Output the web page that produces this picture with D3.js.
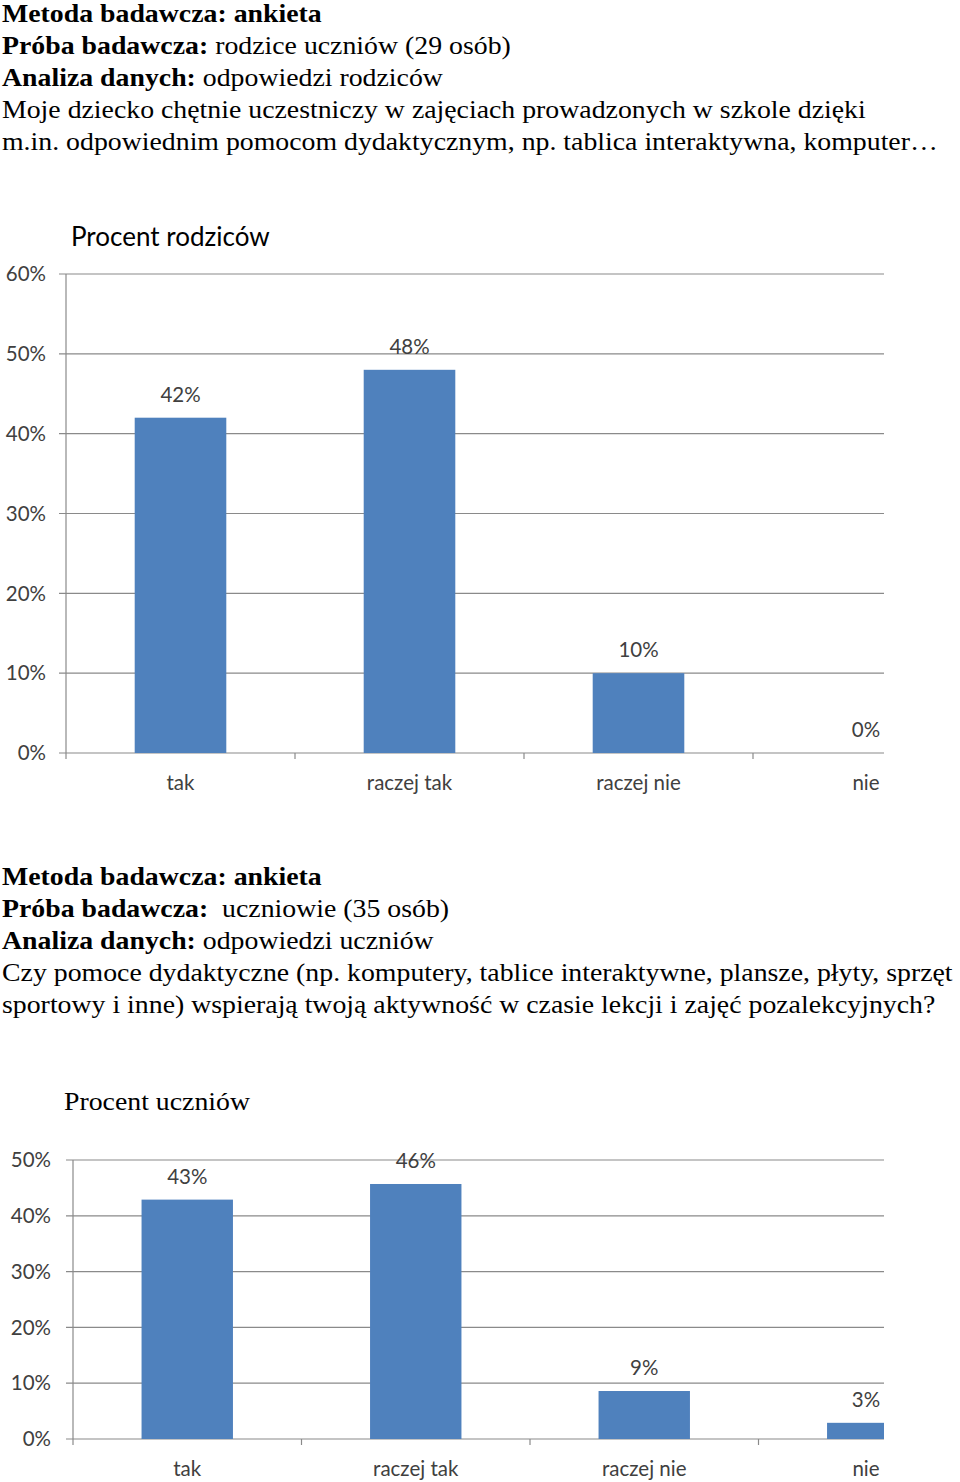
<!DOCTYPE html>
<html>
<head>
<meta charset="utf-8" />
<title>Procent rodziców / uczniów</title>
<script src="https://d3js.org/d3.v7.min.js"></script>
<style>
  body { margin: 0; background: white; }
  svg { display: block; }
  .doc { font-family: "Liberation Serif", "Times New Roman", serif; font-size: 26px; fill: #000; white-space: pre; }
  .axis text, .lbl { font-family: Lato, "Open Sans", sans-serif; font-size: 20.5px; fill: #404040; }
  .ctitle { font-size: 26px; fill: #000; }
</style>
</head>
<body>
<svg id="viz"></svg>
<script>

// answers
var categories = ["tak", "raczej tak", "raczej nie", "nie"];

// chart 1 - parents (29)
var parentValues = [42, 48, 10, 0];
var parentTicks = [0, 10, 20, 30, 40, 50, 60];

// chart 2 - pupils (35)
var pupilValues = [42.9, 45.7, 8.6, 2.9];
var pupilTicks = [0, 10, 20, 30, 40, 50];

// text blocks, [bold part, normal part]
var parentText = [
  ["Metoda badawcza: ankieta", ""],
  ["Próba badawcza:", " rodzice uczniów (29 osób)"],
  ["Analiza danych:", " odpowiedzi rodziców"],
  ["", "Moje dziecko chętnie uczestniczy w zajęciach prowadzonych w szkole dzięki"],
  ["", "m.in. odpowiednim pomocom dydaktycznym, np. tablica interaktywna, komputer…"]
];
var pupilText = [
  ["Metoda badawcza: ankieta", ""],
  ["Próba badawcza:", "  uczniowie (35 osób)"],
  ["Analiza danych:", " odpowiedzi uczniów"],
  ["", "Czy pomoce dydaktyczne (np. komputery, tablice interaktywne, plansze, płyty, sprzęt"],
  ["", "sportowy i inne) wspierają twoją aktywność w czasie lekcji i zajęć pozalekcyjnych?"]
];

var width = 960, height = 1482;
var svg = d3.select("#viz").attr("width", width).attr("height", height);

var defs = svg.append("defs");

// the scanned serif text is a bit wider than Liberation Serif
var stretch = 1.07;

function textBlock(lines, top) {
  var g = svg.append("g")
    .attr("transform", "translate(2,0) scale(" + stretch + ",1)");
  lines.forEach(function(l, i) {
    var t = g.append("text")
      .attr("class", "doc")
      .attr("x", 0)
      .attr("y", top + i * 32);
    if (l[0]) t.append("tspan").attr("font-weight", "bold").text(l[0]);
    if (l[1]) t.append("tspan").text(l[1]);
  });
}

textBlock(parentText, 22);
textBlock(pupilText, 885);

//draw one bar chart
function barChart(opt) {
  var g = svg.append("g");
  var left = opt.left, right = 884;

  var y = d3.scaleLinear()
    .domain([0, d3.max(opt.ticks)])
    .range([opt.bottom, opt.top]);

  // the picture is cut on the right, last band runs past 884
  var x = d3.scaleBand()
    .domain(categories)
    .range([left, left + 4 * opt.step])
    .paddingInner(0.6)
    .paddingOuter(0.3);

  var clipId = "clip" + opt.id;
  defs.append("clipPath").attr("id", clipId)
    .append("rect")
    .attr("x", 0).attr("y", 0)
    .attr("width", right).attr("height", height);

  var plot = g.append("g").attr("clip-path", "url(#" + clipId + ")");

  // gridlines
  plot.selectAll(".grid")
    .data(opt.ticks)
    .enter().append("line")
    .attr("x1", left - 7)
    .attr("x2", right)
    .attr("y1", function(d) { return y(d); })
    .attr("y2", function(d) { return y(d); })
    .attr("stroke", "#8a8a8a")
    .attr("stroke-width", 1.2);

  // bars
  plot.selectAll(".bar")
    .data(opt.values)
    .enter().append("rect")
    .attr("x", function(d, i) { return x(categories[i]); })
    .attr("width", x.bandwidth())
    .attr("y", function(d) { return y(d); })
    .attr("height", function(d) { return opt.bottom - y(d); })
    .attr("fill", "#4f81bd");

  // y axis
  g.append("line")
    .attr("x1", left).attr("x2", left)
    .attr("y1", opt.top).attr("y2", opt.bottom)
    .attr("stroke", "#8a8a8a").attr("stroke-width", 1.2);

  g.selectAll(".ylab")
    .data(opt.ticks)
    .enter().append("text")
    .attr("class", "lbl")
    .attr("x", left - opt.labelGap)
    .attr("y", function(d) { return y(d); })
    .attr("dy", "0.35em")
    .attr("text-anchor", "end")
    .text(function(d) { return d + "%"; });

  // x ticks between categories
  plot.selectAll(".xtick")
    .data(d3.range(0, 4))
    .enter().append("line")
    .attr("x1", function(i) { return left + i * opt.step; })
    .attr("x2", function(i) { return left + i * opt.step; })
    .attr("y1", opt.bottom)
    .attr("y2", opt.bottom + 6)
    .attr("stroke", "#8a8a8a").attr("stroke-width", 1.2);

  g.selectAll(".xlab")
    .data(categories)
    .enter().append("text")
    .attr("class", "lbl")
    .attr("x", function(d) { return Math.min(x(d) + x.bandwidth() / 2, 866); })
    .attr("y", opt.bottom + 37)
    .attr("text-anchor", "middle")
    .text(function(d) { return d; });

  // value labels
  g.selectAll(".vlab")
    .data(opt.values)
    .enter().append("text")
    .attr("class", "lbl")
    .attr("x", function(d, i) { return Math.min(x(categories[i]) + x.bandwidth() / 2, 866); })
    .attr("y", function(d) { return y(d) - 16; })
    .attr("text-anchor", "middle")
    .text(function(d) { return Math.round(d) + "%"; });

  // title
  var tg = g.append("g")
    .attr("transform", "translate(" + opt.titleX + "," + opt.titleY + ") scale(" + opt.titleStretch + ",1)");
  tg.append("text")
    .attr("class", opt.titleClass)
    .text(opt.title);
}

barChart({
  id: 1, values: parentValues, ticks: parentTicks,
  left: 66, top: 274, bottom: 753, step: 229, labelGap: 20,
  title: "Procent rodziców", titleClass: "lbl ctitle", titleX: 71, titleY: 246, titleStretch: 1
});

barChart({
  id: 2, values: pupilValues, ticks: pupilTicks,
  left: 73, top: 1160, bottom: 1439, step: 228.5, labelGap: 22,
  title: "Procent uczniów", titleClass: "doc", titleX: 64, titleY: 1110, titleStretch: stretch
});

</script>
</body>
</html>
